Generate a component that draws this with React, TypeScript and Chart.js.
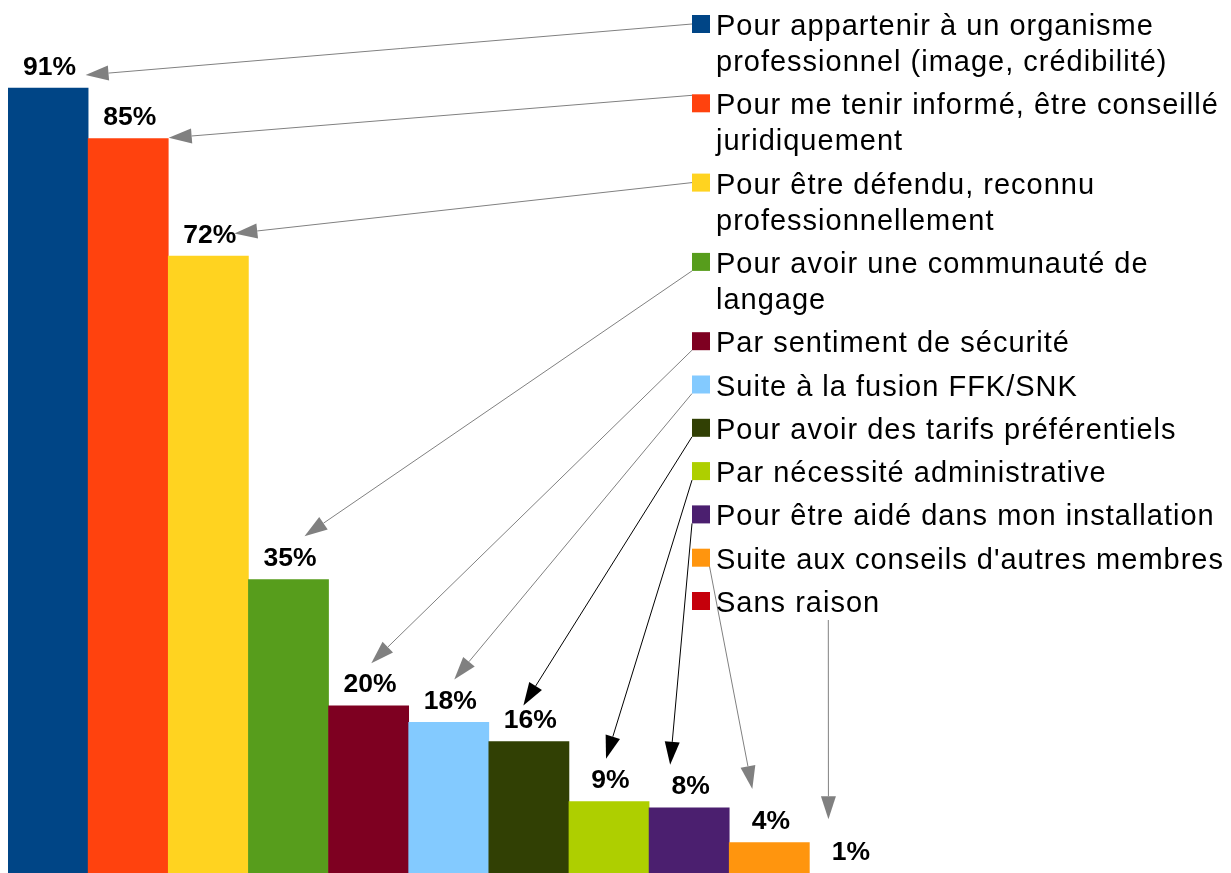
import React, { useEffect, useRef } from "react";
import { Chart, registerables } from "chart.js";

Chart.register(...registerables);

const FONT = '"Liberation Sans", Arial, sans-serif';

// Categories (legend texts, line breaks as in the picture)
const categories: string[] = [
  "Pour appartenir à un organisme\nprofessionnel (image, crédibilité)",
  "Pour me tenir informé, être conseillé\njuridiquement",
  "Pour être défendu, reconnu\nprofessionnellement",
  "Pour avoir une communauté de\nlangage",
  "Par sentiment de sécurité",
  "Suite à la fusion FFK/SNK",
  "Pour avoir des tarifs préférentiels",
  "Par nécessité administrative",
  "Pour être aidé dans mon installation",
  "Suite aux conseils d'autres membres",
  "Sans raison",
];

// Percentages (labels show the rounded value)
const values: number[] = [91, 85.2, 71.7, 34.6, 20.1, 18.2, 16, 9.1, 8.4, 4.4, 0.85];

const colors: string[] = [
  "#004586", "#ff420e", "#ffd320", "#579d1c", "#7e0021", "#83caff",
  "#314004", "#aecf00", "#4b1f6f", "#ff950e", "#c5000b",
];

const arrowColors: string[] = [
  "#808080", "#808080", "#808080", "#808080", "#808080", "#808080",
  "#000000", "#000000", "#000000", "#808080", "#808080",
];

// arrow start relative to legend square (left, top)
const arrowStart: [number, number][] = [
  [0, 9], [0, 1], [0, 9], [0, 18], [0, 18], [0, 18], [0, 18], [0, 18], [0, 18], [17, 15], [136.3, 28],
];
// arrow tip relative to bar top centre
const arrowTip: [number, number][] = [
  [37.5, -13], [40.5, -0.7], [26, -22.7], [16, -43.3], [2.7, -42.7], [5.5, -43],
  [-5.5, -36], [-3, -43], [-19, -43], [-17, -53.7], [-21, -54.3],
];

function drawArrow(ctx: CanvasRenderingContext2D, sx: number, sy: number, tx: number, ty: number, color: string) {
  const a = Math.atan2(ty - sy, tx - sx);
  const L = 23, W = 7.5;
  const bx = tx - L * Math.cos(a);
  const by = ty - L * Math.sin(a);
  ctx.strokeStyle = color;
  ctx.fillStyle = color;
  ctx.lineWidth = 1;
  ctx.beginPath();
  ctx.moveTo(sx, sy);
  ctx.lineTo(bx, by);
  ctx.stroke();
  ctx.beginPath();
  ctx.moveTo(tx, ty);
  ctx.lineTo(bx + W * Math.sin(a), by - W * Math.cos(a));
  ctx.lineTo(bx - W * Math.sin(a), by + W * Math.cos(a));
  ctx.closePath();
  ctx.fill();
}

const annotate = {
  id: "annotate",
  afterDraw(chart: any) {
    const ctx: CanvasRenderingContext2D = chart.ctx;
    const meta = chart.getDatasetMeta(0);
    const yScale = chart.scales.y;
    ctx.save();
    // value labels
    ctx.font = `bold 26.5px ${FONT}`;
    ctx.fillStyle = "#000";
    ctx.textAlign = "center";
    ctx.textBaseline = "alphabetic";
    values.forEach((v, i) => {
      const x = meta.data[i].x;
      const y = yScale.getPixelForValue(v);
      ctx.fillText(Math.round(v) + "%", x + 1.5, y - 13.5);
    });
    // legend + arrows
    const sqX = 692, sq = 18, textX = 716, lineH = 36, gap = 7.3;
    let base = 35;
    categories.forEach((c, i) => {
      const lines = c.split("\n");
      const top = base - 20;
      const tx = meta.data[i].x + arrowTip[i][0];
      const ty = yScale.getPixelForValue(values[i]) + arrowTip[i][1];
      drawArrow(ctx, sqX + arrowStart[i][0], top + arrowStart[i][1], tx, ty, arrowColors[i]);
      ctx.fillStyle = colors[i];
      ctx.fillRect(sqX, top, sq, sq);
      ctx.fillStyle = "#000";
      ctx.font = `29px ${FONT}`;
      ctx.textAlign = "left";
      (ctx as any).letterSpacing = "1px";
      lines.forEach((l, j) => ctx.fillText(l, textX, base + j * lineH));
      (ctx as any).letterSpacing = "0px";
      base += lines.length * lineH + gap;
    });
    ctx.restore();
  },
};

export default function App() {
  const ref = useRef<HTMLCanvasElement>(null);
  useEffect(() => {
    if (!ref.current) return;
    const chart = new Chart(ref.current, {
      type: "bar",
      data: {
        labels: categories.map((c) => c.replace("\n", " ")),
        datasets: [
          {
            data: values,
            backgroundColor: colors,
            borderWidth: 0,
            barPercentage: 1,
            categoryPercentage: 1,
          },
        ],
      },
      options: {
        responsive: false,
        maintainAspectRatio: false,
        devicePixelRatio: 1,
        animation: false,
        layout: { padding: { left: 8, right: 341.5, top: 0, bottom: 0 } },
        scales: {
          x: { display: false },
          y: { display: false, min: 0.918, max: 101.1 },
        },
        plugins: {
          legend: { display: false },
          tooltip: { enabled: false },
        },
      },
      plugins: [annotate],
    });
    return () => chart.destroy();
  }, []);
  return (
    <div style={{ position: "fixed", left: 0, top: 0, width: 1231, height: 873, background: "#fff", overflow: "hidden" }}>
      <canvas ref={ref} width={1231} height={873} style={{ display: "block" }} />
    </div>
  );
}
